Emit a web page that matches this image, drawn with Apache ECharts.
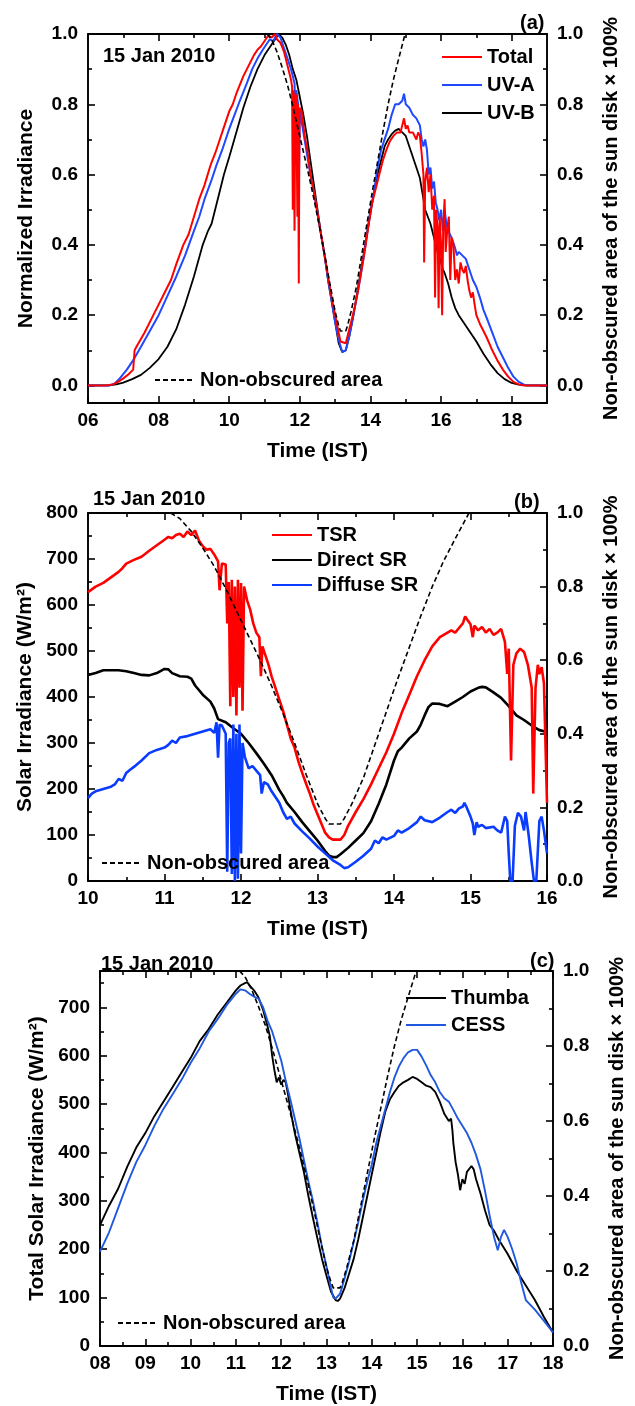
<!DOCTYPE html>
<html>
<head>
<meta charset="utf-8">
<script src="https://cdn.jsdelivr.net/npm/echarts@6/dist/echarts.min.js"></script>
<style>
  html, body { margin: 0; padding: 0; background: #fff; }
  #chart { width: 635px; height: 1406px; }
</style>
</head>
<body>
<div id="chart"></div>
<script>
// ---------- Panel (a): normalized irradiance, 15 Jan 2010 ----------
const totalA = [[6,0],[6.5,0],[6.7,0.003],[6.85,0.01],[7.0,0.02],[7.15,0.032],[7.28,0.045],[7.32,0.1],[7.4,0.115],[7.6,0.15],[7.8,0.19],[8.0,0.23],[8.2,0.27],[8.35,0.3],[8.5,0.345],[8.7,0.4],[8.85,0.43],[9.0,0.48],[9.15,0.53],[9.3,0.57],[9.45,0.62],[9.5,0.635],[9.6,0.66],[9.7,0.69],[9.8,0.72],[9.9,0.75],[10.0,0.78],[10.1,0.8],[10.2,0.83],[10.3,0.855],[10.4,0.88],[10.5,0.9],[10.6,0.92],[10.7,0.94],[10.8,0.955],[10.9,0.965],[11.0,0.98],[11.1,0.995],[11.15,1.0],[11.2,0.99],[11.3,1.0],[11.35,0.985],[11.45,0.975],[11.55,0.95],[11.65,0.91],[11.75,0.87],[11.78,0.85],[11.8,0.5],[11.82,0.84],[11.85,0.44],[11.87,0.83],[11.9,0.82],[11.93,0.48],[11.95,0.8],[11.97,0.29],[11.99,0.79],[12.05,0.78],[12.1,0.74],[12.15,0.7],[12.2,0.68],[12.25,0.64],[12.3,0.6],[12.4,0.55],[12.5,0.49],[12.6,0.43],[12.7,0.37],[12.8,0.31],[12.9,0.25],[13.0,0.2],[13.1,0.15],[13.15,0.125],[13.2,0.12],[13.3,0.12],[13.35,0.14],[13.45,0.18],[13.55,0.22],[13.65,0.27],[13.75,0.33],[13.85,0.39],[13.95,0.46],[14.05,0.52],[14.15,0.56],[14.25,0.6],[14.35,0.64],[14.45,0.67],[14.55,0.695],[14.65,0.71],[14.75,0.72],[14.85,0.72],[14.9,0.74],[14.95,0.76],[15.0,0.73],[15.05,0.74],[15.1,0.72],[15.2,0.72],[15.3,0.7],[15.35,0.72],[15.4,0.71],[15.45,0.66],[15.5,0.6],[15.52,0.35],[15.55,0.58],[15.6,0.62],[15.65,0.55],[15.7,0.6],[15.75,0.5],[15.8,0.54],[15.83,0.25],[15.86,0.5],[15.9,0.45],[15.93,0.22],[15.96,0.48],[16.0,0.4],[16.03,0.2],[16.06,0.45],[16.1,0.53],[16.13,0.38],[16.18,0.45],[16.22,0.48],[16.26,0.3],[16.3,0.42],[16.35,0.4],[16.4,0.3],[16.45,0.33],[16.5,0.29],[16.55,0.35],[16.6,0.33],[16.65,0.32],[16.7,0.34],[16.75,0.3],[16.8,0.27],[16.85,0.25],[16.9,0.265],[16.95,0.23],[17.0,0.2],[17.1,0.175],[17.2,0.155],[17.3,0.135],[17.45,0.1],[17.6,0.07],[17.75,0.045],[17.9,0.025],[18.05,0.01],[18.2,0.003],[18.35,0],[19,0]];
const uvaA = [[6,0],[6.6,0],[6.75,0.005],[6.9,0.02],[7.1,0.045],[7.3,0.075],[7.5,0.11],[7.75,0.155],[8.0,0.2],[8.25,0.255],[8.5,0.31],[8.75,0.37],[9.0,0.44],[9.15,0.48],[9.3,0.53],[9.5,0.585],[9.65,0.63],[9.8,0.67],[10.0,0.73],[10.15,0.77],[10.3,0.81],[10.5,0.86],[10.65,0.9],[10.8,0.93],[10.95,0.955],[11.05,0.97],[11.15,0.985],[11.25,0.98],[11.35,1.0],[11.45,0.99],[11.55,0.96],[11.65,0.93],[11.75,0.9],[11.85,0.86],[11.88,0.72],[11.9,0.84],[11.95,0.8],[11.98,0.62],[12.0,0.78],[12.05,0.75],[12.1,0.72],[12.15,0.69],[12.2,0.66],[12.3,0.6],[12.4,0.55],[12.5,0.49],[12.6,0.43],[12.7,0.37],[12.8,0.3],[12.9,0.24],[13.0,0.18],[13.1,0.13],[13.2,0.095],[13.25,0.093],[13.3,0.1],[13.4,0.14],[13.5,0.19],[13.6,0.245],[13.7,0.3],[13.8,0.36],[13.9,0.43],[14.0,0.5],[14.1,0.55],[14.2,0.62],[14.3,0.67],[14.4,0.7],[14.5,0.73],[14.6,0.77],[14.7,0.8],[14.8,0.8],[14.9,0.81],[14.95,0.83],[15.0,0.8],[15.1,0.79],[15.2,0.77],[15.3,0.76],[15.35,0.75],[15.4,0.74],[15.45,0.7],[15.5,0.68],[15.55,0.7],[15.6,0.67],[15.65,0.6],[15.7,0.62],[15.75,0.56],[15.8,0.58],[15.85,0.52],[15.9,0.5],[15.95,0.47],[16.0,0.5],[16.05,0.44],[16.1,0.5],[16.15,0.46],[16.2,0.44],[16.3,0.42],[16.4,0.39],[16.45,0.37],[16.5,0.38],[16.6,0.37],[16.7,0.36],[16.8,0.33],[16.9,0.3],[17.0,0.28],[17.1,0.25],[17.2,0.215],[17.3,0.19],[17.45,0.15],[17.6,0.11],[17.75,0.08],[17.9,0.05],[18.05,0.025],[18.2,0.01],[18.35,0.002],[18.45,0],[19,0]];
const uvbA = [[6,0],[6.6,0],[6.8,0.003],[7.0,0.008],[7.25,0.018],[7.5,0.03],[7.75,0.05],[8.0,0.075],[8.25,0.11],[8.5,0.16],[8.75,0.23],[9.0,0.31],[9.25,0.4],[9.4,0.44],[9.5,0.46],[9.6,0.5],[9.7,0.54],[9.85,0.6],[10.0,0.65],[10.2,0.72],[10.4,0.79],[10.6,0.85],[10.8,0.9],[11.0,0.94],[11.2,0.97],[11.3,0.985],[11.4,1.0],[11.5,0.99],[11.6,0.97],[11.7,0.94],[11.8,0.9],[11.9,0.87],[12.0,0.82],[12.1,0.77],[12.2,0.71],[12.3,0.64],[12.4,0.57],[12.5,0.5],[12.6,0.43],[12.7,0.37],[12.8,0.3],[12.9,0.24],[13.0,0.18],[13.1,0.12],[13.2,0.095],[13.25,0.09],[13.3,0.1],[13.4,0.14],[13.5,0.19],[13.6,0.25],[13.7,0.31],[13.8,0.37],[13.9,0.43],[14.0,0.49],[14.1,0.55],[14.2,0.6],[14.3,0.64],[14.4,0.68],[14.5,0.7],[14.6,0.715],[14.7,0.725],[14.8,0.73],[14.9,0.72],[15.0,0.71],[15.1,0.68],[15.2,0.65],[15.3,0.62],[15.4,0.59],[15.5,0.53],[15.55,0.5],[15.6,0.5],[15.7,0.46],[15.8,0.42],[15.9,0.38],[16.0,0.35],[16.05,0.33],[16.1,0.32],[16.2,0.29],[16.3,0.25],[16.4,0.22],[16.5,0.2],[16.6,0.185],[16.7,0.17],[16.8,0.155],[16.9,0.14],[17.0,0.125],[17.2,0.09],[17.4,0.06],[17.6,0.035],[17.8,0.018],[18.0,0.007],[18.2,0.002],[18.4,0],[19,0]];

// ---------- Panel (b): solar irradiance components (W/m2) ----------
const tsrB = [[10.0,628],[10.1,640],[10.2,648],[10.3,660],[10.4,672],[10.45,680],[10.5,690],[10.6,698],[10.7,705],[10.8,718],[10.9,730],[11.0,742],[11.05,748],[11.1,745],[11.15,752],[11.2,755],[11.25,748],[11.3,760],[11.35,752],[11.4,762],[11.45,740],[11.5,728],[11.55,720],[11.6,722],[11.65,710],[11.7,695],[11.72,632],[11.75,690],[11.8,688],[11.82,560],[11.84,650],[11.86,380],[11.88,655],[11.9,400],[11.92,640],[11.94,360],[11.96,655],[11.98,420],[12.0,648],[12.02,370],[12.04,640],[12.08,610],[12.12,590],[12.16,560],[12.2,540],[12.24,530],[12.26,445],[12.28,510],[12.32,490],[12.36,470],[12.4,445],[12.45,420],[12.5,395],[12.55,370],[12.6,340],[12.65,310],[12.7,290],[12.75,260],[12.8,235],[12.85,212],[12.9,190],[12.95,165],[13.0,145],[13.05,125],[13.1,105],[13.15,95],[13.2,90],[13.3,90],[13.35,100],[13.4,120],[13.5,150],[13.6,178],[13.7,210],[13.8,245],[13.9,280],[14.0,320],[14.1,365],[14.2,405],[14.3,445],[14.4,480],[14.5,510],[14.6,530],[14.7,540],[14.75,545],[14.8,540],[14.85,550],[14.9,560],[14.93,575],[14.97,565],[15.0,558],[15.03,530],[15.05,555],[15.1,545],[15.15,552],[15.2,540],[15.25,548],[15.3,535],[15.35,540],[15.4,548],[15.45,520],[15.48,450],[15.5,505],[15.53,262],[15.56,470],[15.6,495],[15.65,505],[15.7,498],[15.75,470],[15.8,420],[15.82,190],[15.85,420],[15.88,470],[15.9,450],[15.93,465],[15.96,430],[16.0,170]];
const directB = [[10.0,448],[10.1,452],[10.2,458],[10.3,458],[10.4,458],[10.5,456],[10.6,452],[10.7,448],[10.8,447],[10.9,452],[11.0,461],[11.05,460],[11.1,452],[11.2,445],[11.3,444],[11.35,440],[11.4,425],[11.5,405],[11.6,390],[11.65,375],[11.7,352],[11.8,345],[11.9,332],[12.0,320],[12.1,300],[12.2,278],[12.3,255],[12.4,230],[12.5,198],[12.55,185],[12.6,170],[12.7,150],[12.8,128],[12.9,108],[13.0,88],[13.1,65],[13.15,55],[13.2,52],[13.25,52],[13.3,58],[13.4,72],[13.5,88],[13.6,104],[13.7,130],[13.8,168],[13.9,210],[14.0,262],[14.05,282],[14.1,290],[14.2,310],[14.3,325],[14.35,340],[14.4,360],[14.45,378],[14.5,386],[14.6,385],[14.7,380],[14.8,390],[14.9,400],[15.0,412],[15.1,420],[15.15,422],[15.2,421],[15.3,410],[15.4,398],[15.5,380],[15.6,360],[15.7,350],[15.8,338],[15.9,328],[16.0,324]];
const diffuseB = [[10.0,180],[10.05,190],[10.1,195],[10.2,200],[10.3,205],[10.35,210],[10.4,222],[10.45,218],[10.5,235],[10.55,242],[10.6,248],[10.7,262],[10.8,278],[10.9,285],[11.0,290],[11.05,296],[11.1,305],[11.15,300],[11.2,312],[11.3,315],[11.4,320],[11.5,325],[11.6,330],[11.65,322],[11.68,345],[11.7,268],[11.72,340],[11.75,338],[11.8,320],[11.82,20],[11.84,300],[11.86,310],[11.88,15],[11.9,340],[11.92,0],[11.94,320],[11.96,5],[11.98,340],[12.0,60],[12.02,300],[12.05,270],[12.1,245],[12.15,250],[12.2,240],[12.25,230],[12.27,190],[12.3,215],[12.35,210],[12.4,195],[12.5,170],[12.55,150],[12.6,135],[12.65,140],[12.7,125],[12.8,108],[12.9,92],[13.0,75],[13.1,60],[13.2,45],[13.3,35],[13.35,28],[13.4,30],[13.5,42],[13.6,55],[13.7,70],[13.75,88],[13.8,82],[13.85,95],[13.9,90],[14.0,98],[14.05,110],[14.1,105],[14.2,115],[14.3,128],[14.35,140],[14.4,132],[14.5,128],[14.6,138],[14.7,150],[14.75,155],[14.8,148],[14.85,158],[14.9,162],[14.92,170],[14.95,160],[15.0,140],[15.03,125],[15.05,100],[15.08,128],[15.1,118],[15.15,122],[15.2,115],[15.3,118],[15.35,110],[15.4,105],[15.45,140],[15.48,130],[15.5,60],[15.52,0],[15.55,0],[15.58,120],[15.62,148],[15.66,140],[15.7,110],[15.72,150],[15.76,100],[15.8,40],[15.83,0],[15.86,0],[15.9,130],[15.93,140],[15.96,110],[16.0,60]];

// ---------- Panel (c): total solar irradiance at two sites (W/m2) ----------
const thumbaC = [[8.0,250],[8.2,290],[8.4,325],[8.6,370],[8.8,410],[9.0,440],[9.2,475],[9.4,505],[9.6,535],[9.8,565],[10.0,595],[10.2,630],[10.4,655],[10.6,685],[10.8,710],[11.0,735],[11.1,745],[11.2,750],[11.25,752],[11.3,745],[11.4,735],[11.5,720],[11.6,695],[11.7,660],[11.75,640],[11.8,600],[11.85,570],[11.9,545],[11.95,555],[12.0,540],[12.05,550],[12.1,545],[12.15,520],[12.2,490],[12.3,440],[12.4,400],[12.5,360],[12.6,310],[12.7,265],[12.8,222],[12.9,180],[13.0,145],[13.1,112],[13.2,95],[13.25,93],[13.3,98],[13.4,120],[13.5,150],[13.6,180],[13.7,220],[13.8,265],[13.9,310],[14.0,355],[14.1,400],[14.2,445],[14.3,485],[14.4,510],[14.5,525],[14.6,538],[14.7,545],[14.8,550],[14.9,556],[15.0,552],[15.1,545],[15.2,538],[15.3,535],[15.4,525],[15.5,505],[15.6,480],[15.7,465],[15.75,470],[15.78,445],[15.8,420],[15.85,380],[15.9,355],[15.95,322],[16.0,345],[16.05,335],[16.1,360],[16.2,372],[16.25,365],[16.3,345],[16.4,315],[16.5,280],[16.6,250],[16.7,238],[16.8,220],[16.9,205],[17.0,190],[17.2,155],[17.4,125],[17.6,95],[17.8,60],[18.0,28]];
const cessC = [[8.0,195],[8.2,235],[8.4,285],[8.6,335],[8.8,380],[9.0,415],[9.2,455],[9.4,490],[9.6,520],[9.8,550],[10.0,585],[10.2,615],[10.4,650],[10.6,676],[10.8,705],[11.0,728],[11.1,737],[11.2,735],[11.3,728],[11.4,722],[11.5,718],[11.6,700],[11.7,672],[11.8,650],[11.9,620],[12.0,590],[12.1,548],[12.2,510],[12.3,470],[12.4,430],[12.5,385],[12.6,340],[12.7,300],[12.8,255],[12.9,205],[13.0,165],[13.1,120],[13.15,100],[13.2,98],[13.3,108],[13.4,140],[13.5,175],[13.6,215],[13.7,255],[13.8,300],[13.9,340],[14.0,375],[14.1,420],[14.2,455],[14.3,490],[14.4,525],[14.5,555],[14.6,578],[14.7,595],[14.8,607],[14.9,612],[15.0,612],[15.1,598],[15.2,580],[15.3,560],[15.4,545],[15.5,525],[15.6,512],[15.7,505],[15.8,488],[15.9,470],[16.0,455],[16.1,440],[16.2,420],[16.3,395],[16.4,365],[16.5,320],[16.6,270],[16.7,225],[16.78,198],[16.85,225],[16.92,240],[17.0,225],[17.1,200],[17.2,170],[17.3,130],[17.4,95],[17.5,85],[17.6,75],[17.8,52],[18.0,28]];

// Fraction of the solar disk left unobscured during the annular eclipse
const unobscured = [[11.08,1.0],[11.2,0.985],[11.35,0.95],[11.5,0.905],[11.65,0.855],[11.8,0.795],[11.95,0.73],[12.1,0.665],[12.25,0.6],[12.4,0.53],[12.55,0.455],[12.7,0.375],[12.85,0.29],[13.0,0.21],[13.1,0.17],[13.15,0.155],[13.3,0.155],[13.35,0.17],[13.45,0.21],[13.6,0.28],[13.75,0.37],[13.9,0.46],[14.05,0.55],[14.2,0.635],[14.35,0.72],[14.5,0.8],[14.65,0.87],[14.8,0.93],[14.98,1.0]];

// Tick positions
const ticksXA = [6,8,10,12,14,16,18];
const minorXA = [7,9,11,13,15,17];
const ticksXB = [10,11,12,13,14,15,16];
const minorXB = [10.5,11.5,12.5,13.5,14.5,15.5];
const ticksXC = [8,9,10,11,12,13,14,15,16,17,18];
const minorXC = [8.5,9.5,10.5,11.5,12.5,13.5,14.5,15.5,16.5,17.5];
const ticksFrac = [0,0.2,0.4,0.6,0.8,1.0];
const minorFrac = [0.1,0.3,0.5,0.7,0.9];
const ticksWB = [0,100,200,300,400,500,600,700,800];
const minorWB = [50,150,250,350,450,550,650,750];
const ticksWC = [0,100,200,300,400,500,600,700];
const minorWC = [50,150,250,350,450,550,650,750];

const FONT = '"Liberation Sans", Arial, sans-serif';
const BOLD = { color: '#000', fontFamily: FONT, fontWeight: 'bold' };
const pad2 = v => (v < 10 ? '0' : '') + Math.round(v);
const one = v => Number(v).toFixed(1);
const int = v => String(Math.round(v));
const AXIS_W = 1.9;

// four x axes per grid: bottom (major/minor ticks) and top frame (major/minor ticks)
function xAxes(g, min, max, majors, minors, fmt) {
  const base = { type: 'value', gridIndex: g, min, max, splitLine: { show: false } };
  const line = { show: true, onZero: false, lineStyle: { color: '#000', width: AXIS_W } };
  const tick = (vals, len) => ({ show: true, inside: true, length: len, customValues: vals, lineStyle: { color: '#000', width: 1.6 } });
  return [
    Object.assign({}, base, {
      position: 'bottom', axisLine: line, axisTick: tick(majors, 7),
      axisLabel: Object.assign({ show: true, customValues: majors, formatter: fmt, margin: 8, fontSize: 19 }, BOLD),
      name: 'Time (IST)', nameLocation: 'middle', nameGap: 38,
      nameTextStyle: Object.assign({ fontSize: 21 }, BOLD)
    }),
    Object.assign({}, base, { position: 'bottom', axisLine: { show: false, onZero: false }, axisTick: tick(minors, 4), axisLabel: { show: false } }),
    Object.assign({}, base, { position: 'top', axisLine: line, axisTick: tick(majors, 7), axisLabel: { show: false } }),
    Object.assign({}, base, { position: 'top', axisLine: { show: false, onZero: false }, axisTick: tick(minors, 4), axisLabel: { show: false } })
  ];
}

// four y axes per grid: left (data scale) and right (unobscured fraction)
function yAxes(g, lmin, lmax, lMaj, lMin, lFmt, lName, rmin, rmax) {
  const line = { show: true, onZero: false, lineStyle: { color: '#000', width: AXIS_W } };
  const tick = (vals, len) => ({ show: true, inside: true, length: len, customValues: vals, lineStyle: { color: '#000', width: 1.6 } });
  return [
    { type: 'value', gridIndex: g, position: 'left', min: lmin, max: lmax, splitLine: { show: false },
      axisLine: line, axisTick: tick(lMaj, 7),
      axisLabel: Object.assign({ show: true, customValues: lMaj, formatter: lFmt, margin: 10, fontSize: 19 }, BOLD),
      name: lName, nameLocation: 'middle', nameGap: 51, nameRotate: 90,
      nameTextStyle: Object.assign({ fontSize: 21 }, BOLD) },
    { type: 'value', gridIndex: g, position: 'left', min: lmin, max: lmax, splitLine: { show: false },
      axisLine: { show: false, onZero: false }, axisTick: tick(lMin, 4), axisLabel: { show: false } },
    { type: 'value', gridIndex: g, position: 'right', min: rmin, max: rmax, splitLine: { show: false },
      axisLine: line, axisTick: tick(ticksFrac, 7),
      axisLabel: Object.assign({ show: true, customValues: ticksFrac, formatter: one, margin: 10, fontSize: 19 }, BOLD),
      name: 'Non-obscured area of the sun disk \u00d7 100%', nameLocation: 'middle', nameGap: 54, nameRotate: 90,
      nameTextStyle: Object.assign({ fontSize: 20 }, BOLD) },
    { type: 'value', gridIndex: g, position: 'right', min: rmin, max: rmax, splitLine: { show: false },
      axisLine: { show: false, onZero: false }, axisTick: tick(minorFrac, 4), axisLabel: { show: false } }
  ];
}

function series(name, data, g, right, color, width, dashed) {
  return {
    type: 'line', name, data, xAxisIndex: g * 4, yAxisIndex: g * 4 + (right ? 2 : 0),
    symbol: 'none', showSymbol: false, clip: true, animation: false,
    lineStyle: { color, width, type: dashed ? [5, 3] : 'solid' },
    itemStyle: { color }, z: dashed ? 5 : 3
  };
}

const RED = '#ff0000', BLACK = '#000000';
const BLUE_A = '#1f48ff', BLUE_B = '#0a3cff', BLUE_C = '#2158e0';

const legendText = Object.assign({ fontSize: 20 }, BOLD);
// line-only legend keys: the marker dot is hidden
const legendBase = { orient: 'vertical', padding: 0, selectedMode: false, itemWidth: 40, itemHeight: 2,
  itemStyle: { opacity: 0 }, textStyle: legendText };

const option = {
  backgroundColor: '#fff',
  animation: false,
  grid: [
    { left: 88, top: 34, width: 459, height: 369 },
    { left: 88, top: 513, width: 459, height: 368 },
    { left: 100, top: 971, width: 459, height: 377 }
  ],
  title: [
    { text: '15 Jan 2010', left: 103, top: 46, padding: 0, textStyle: Object.assign({ fontSize: 20 }, BOLD) },
    { text: '(a)', left: 520, top: 13, padding: 0, textStyle: Object.assign({ fontSize: 20 }, BOLD) },
    { text: '15 Jan 2010', left: 93, top: 489, padding: 0, textStyle: Object.assign({ fontSize: 20 }, BOLD) },
    { text: '(b)', left: 514, top: 492, padding: 0, textStyle: Object.assign({ fontSize: 20 }, BOLD) },
    { text: '15 Jan 2010', left: 101, top: 954, padding: 0, textStyle: Object.assign({ fontSize: 20 }, BOLD) },
    { text: '(c)', left: 530, top: 951, padding: 0, textStyle: Object.assign({ fontSize: 20 }, BOLD) }
  ],
  legend: [
    Object.assign({}, legendBase, { data: ['Total', 'UV-A', 'UV-B'], left: 441, top: 47, itemGap: 8 }),
    Object.assign({}, legendBase, { data: ['Non-obscured area'], left: 154, top: 370 }),
    Object.assign({}, legendBase, { data: ['TSR', 'Direct SR', 'Diffuse SR'], left: 271, top: 525, itemGap: 5 }),
    Object.assign({}, legendBase, { data: ['Non-obscured area'], left: 101, top: 853 }),
    Object.assign({}, legendBase, { data: ['Thumba', 'CESS'], left: 405, top: 988, itemGap: 7 }),
    Object.assign({}, legendBase, { data: ['Non-obscured area'], left: 117, top: 1313 })
  ],
  xAxis: [].concat(
    xAxes(0, 6, 19, ticksXA, minorXA, pad2),
    xAxes(1, 10, 16, ticksXB, minorXB, int),
    xAxes(2, 8, 18, ticksXC, minorXC, pad2)
  ),
  yAxis: [].concat(
    yAxes(0, -0.05, 1.0, ticksFrac, minorFrac, one, 'Normalized Irradiance', -0.05, 1.0),
    yAxes(1, 0, 800, ticksWB, minorWB, int, 'Solar Irradiance (W/m\u00b2)', 0, 1.0),
    yAxes(2, 0, 775, ticksWC, minorWC, int, 'Total Solar Irradiance (W/m\u00b2)', 0, 1.0)
  ),
  series: [
    series('UV-B', uvbA, 0, false, BLACK, 1.8),
    series('UV-A', uvaA, 0, false, BLUE_A, 2.0),
    series('Total', totalA, 0, false, RED, 2.0),
    series('Non-obscured area', unobscured, 0, true, BLACK, 1.6, true),

    series('Direct SR', directB, 1, false, BLACK, 2.6),
    series('Diffuse SR', diffuseB, 1, false, BLUE_B, 2.6),
    series('TSR', tsrB, 1, false, RED, 2.6),
    series('Non-obscured area', unobscured, 1, true, BLACK, 1.6, true),

    series('Thumba', thumbaC, 2, false, BLACK, 1.9),
    series('CESS', cessC, 2, false, BLUE_C, 1.9),
    series('Non-obscured area', unobscured, 2, true, BLACK, 1.6, true)
  ]
};

const chart = echarts.init(document.getElementById('chart'), null, { renderer: 'canvas' });
chart.setOption(option);
</script>
</body>
</html>
